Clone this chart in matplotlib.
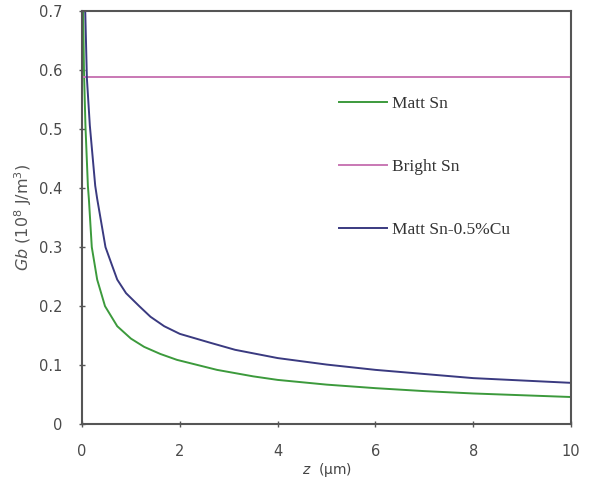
import numpy as np
import matplotlib.pyplot as plt

# values
z_matt = [0.02, 0.04, 0.07, 0.12, 0.14, 0.2, 0.31, 0.47, 0.72, 1.0, 1.27, 1.6, 1.94,
          2.76, 3.5, 4, 5, 6, 7, 8, 9, 10]
gb_matt = [0.72, 0.60, 0.506, 0.404, 0.382, 0.30, 0.245, 0.20, 0.166, 0.145, 0.131,
           0.119, 0.109, 0.092, 0.081, 0.075, 0.067, 0.061, 0.056, 0.052, 0.049, 0.046]

z_cu = [0.06, 0.1, 0.16, 0.27, 0.31, 0.48, 0.61, 0.72, 0.9, 1.17, 1.4, 1.68, 2.0, 2.62,
        3.13, 4, 5, 6, 7, 8, 9, 10]
gb_cu = [0.72, 0.586, 0.506, 0.404, 0.382, 0.30, 0.27, 0.245, 0.222, 0.20, 0.182, 0.166,
         0.153, 0.138, 0.126, 0.112, 0.101, 0.092, 0.085, 0.078, 0.074, 0.070]

z_bright = [0, 10]
gb_bright = [0.588, 0.588]

labels = ["Matt Sn", "Bright Sn", "Matt Sn-0.5%Cu"]

green = "#3c9a3c"
pink = "#c978b4"
navy = "#3a3a80"
axcol = "#555555"

fig = plt.figure(figsize=(5.9, 4.82), dpi=100)
ax = fig.add_axes([0.139, 0.120, 0.829, 0.857])

kw = dict(lw=1.4, solid_joinstyle="round")
ax.plot(z_matt, gb_matt, color=green, label=labels[0], **kw)
ax.plot(z_bright, gb_bright, color=pink, label=labels[1], **kw)
ax.plot(z_cu, gb_cu, color=navy, label=labels[2], **kw)

ax.set_xlim(0, 10)
ax.set_ylim(0, 0.7)
ax.set_xticks(np.arange(0, 11, 2))
ax.set_yticks(np.arange(0, 0.71, 0.1))
ax.set_xticklabels(["0", "2", "4", "6", "8", "10"])
ax.set_yticklabels(["0", "0.1", "0.2", "0.3", "0.4", "0.5", "0.6", "0.7"])

for s in ax.spines.values():
    s.set_color(axcol)
    s.set_linewidth(1.5)
ax.tick_params(direction="inout", length=4, width=1, color=axcol,
               labelcolor="#4a4a4a", labelsize=10.5)
ax.tick_params(axis="x", pad=12)
ax.tick_params(axis="y", pad=12)

ax.set_xlabel(r"$z$  (μm)", fontsize=10, color="#444444", labelpad=2)
ax.set_ylabel(r"$Gb$ (10$^8$ J/m$^3$)", fontsize=11.5, color="#555555", labelpad=4)

leg = ax.legend(loc="upper left", bbox_to_anchor=(0.508, 0.815), frameon=False,
                borderpad=0, handlelength=2.75, handletextpad=0.3,
                labelspacing=2.7, prop={"family": "Liberation Serif", "size": 12.5})
for t in leg.get_texts():
    t.set_color("#333333")

fig.savefig("out.png", dpi=100)
